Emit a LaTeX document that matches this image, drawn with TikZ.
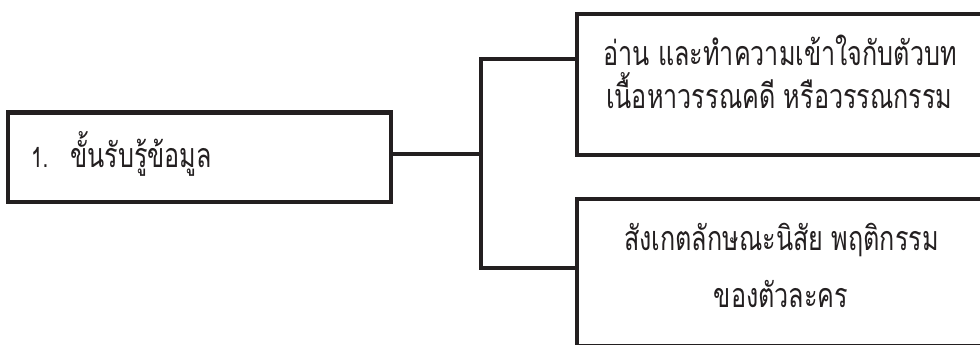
\documentclass[tikz,border=0pt]{standalone}
\usepackage{fontspec}
\newfontfamily\thaifont[Script=Thai,FakeStretch=0.74]{Loma}
\definecolor{boxline}{HTML}{231F20}
\tikzset{
  step box/.style={draw=boxline,line width=4.5pt,rectangle,inner sep=0pt,
    outer sep=0pt},
  step label/.style={inner sep=0pt,text=boxline,
    font=\thaifont\fontsize{34}{40}\selectfont},
  step link/.style={draw=boxline,line width=4.5pt}
}
\begin{document}
\begin{tikzpicture}[x=1pt,y=-1pt]
  \useasboundingbox (0,0) rectangle (980,345);
  \clip (0,0) rectangle (980,345);
  % left box
  \node[step box,minimum width=383pt,minimum height=89.5pt,anchor=north west]
    (info) at (8,112.5) {};
  \node[step label,anchor=base west,font=\thaifont\fontsize{28}{30}\selectfont]
    (info num) at (31,167) {1.};
  \node[step label,anchor=base west] (info text) at (70,167) {ขั้นรับรู้ข้อมูล};
  % right boxes
  \node[step box,minimum width=440pt,minimum height=141pt,anchor=north west]
    (read) at (577,14) {};
  \node[step label,anchor=base west] (read a) at (603,66) {อ่าน และทำความเข้าใจกับตัวบท};
  \node[step label,anchor=base west] (read b) at (606,108) {เนื้อหาวรรณคดี หรือวรรณกรรม};
  \node[step box,minimum width=440pt,minimum height=147.5pt,anchor=north west]
    (observe) at (577,199) {};
  \node[step label,anchor=base] (observe a) at (781.5,250) {สังเกตลักษณะนิสัย พฤติกรรม};
  \node[step label,anchor=base] (observe b) at (781,307) {ของตัวละคร};
  % connectors
  \coordinate (fork) at (481,154);
  \coordinate (fork top) at (481,59);
  \coordinate (fork bottom) at (481,268);
  \draw[step link] (info.east |- fork) -- (fork);
  \draw[step link] (read.west |- fork top) -- (fork top) -- (fork bottom)
    -- (observe.west |- fork bottom);
\end{tikzpicture}
\end{document}
